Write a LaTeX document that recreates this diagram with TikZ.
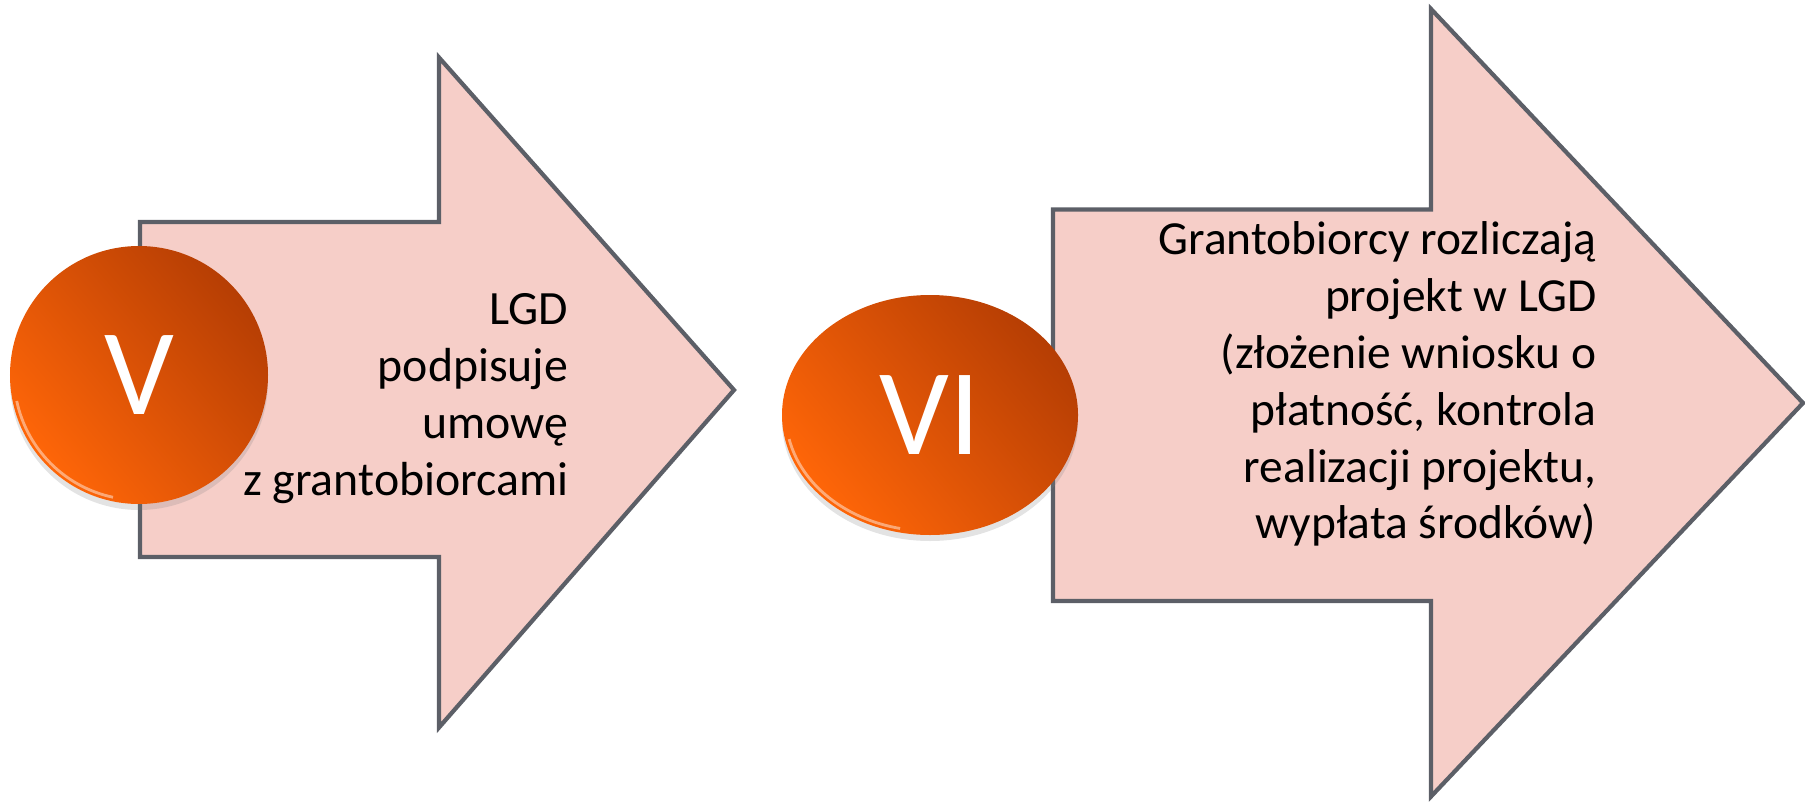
\documentclass[tikz,border=0pt]{standalone}
\usepackage{fontspec}
\setmainfont{Carlito}
\usetikzlibrary{shapes.geometric,shadows}
\definecolor{arrowfill}{RGB}{246,206,200}
\definecolor{arrowline}{RGB}{92,95,103}
\definecolor{balllight}{RGB}{255,102,8}
\definecolor{balldark}{RGB}{182,62,4}
\begin{document}
\begin{tikzpicture}
[arrowdecorate/.style={fill=arrowfill,draw=arrowline,line width=1.2pt,line join=miter},%
  balldecorate/.style={inner sep=0pt,top color=balldark,bottom color=balllight,
    shading angle=-50,text=white,font=\fontsize{35}{35}\selectfont,
    drop shadow={shadow xshift=0pt,shadow yshift=-0.06cm,opacity=0.22}},%
  rimdecorate/.style={draw=white,opacity=0.45,line width=0.8pt},%
  textdecorate/.style={anchor=east,align=right,inner sep=0pt}]
\useasboundingbox (0,0) rectangle (18.05,8.02);
%% arrows
\foreach \xl/\st/\sb/\xh/\ht/\hb/\xt/\yc in {1.40/5.80/2.45/4.39/7.445/0.745/7.34/4.12,
  10.53/5.925/2.01/14.31/7.93/0.055/18.03/3.99} {
  \draw[arrowdecorate] (\xl,\st) -- (\xh,\st) -- (\xh,\ht) -- (\xt,\yc)
    -- (\xh,\hb) -- (\xh,\sb) -- (\xl,\sb) -- cycle;
}
%% balls
\node (v) at (1.39,4.27) [balldecorate,circle,minimum size=2.58cm] {V};
\node (vi) at (9.30,3.87) [balldecorate,ellipse,minimum width=2.96cm,minimum height=2.40cm] {VI};
\draw[rimdecorate] ([shift={(192:1.25)}]v.center) arc[start angle=192,end angle=258,radius=1.25];
\draw[rimdecorate] ([shift={(192:1.44 and 1.16)}]vi.center)
  arc[start angle=192,end angle=258,x radius=1.44,y radius=1.16];
%% texts
\node (lgdtext) at (5.69,4.03) [textdecorate,font=\fontsize{13.6}{16.2}\selectfont]
  {LGD\\podpisuje\\umowę\\z grantobiorcami};
\node (granttext) at (15.97,4.18) [textdecorate,font=\fontsize{13.5}{16.2}\selectfont]
  {Grantobiorcy rozliczają\\projekt w LGD\\(złożenie wniosku o\\płatność, kontrola\\realizacji projektu,\\wypłata środków)};
\end{tikzpicture}
\end{document}
